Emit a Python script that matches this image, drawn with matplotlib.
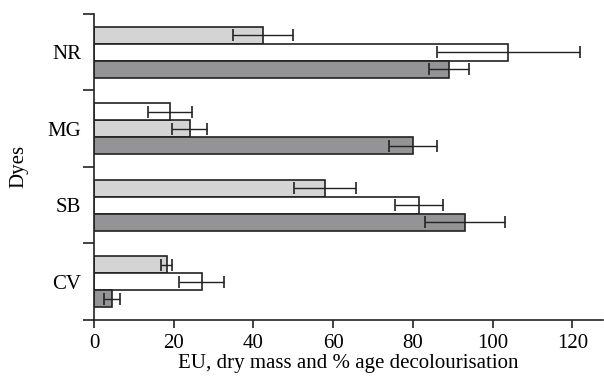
import matplotlib
matplotlib.use("Agg")
import matplotlib.pyplot as plt
import numpy as np

plt.rcParams['font.family'] = ['Liberation Serif', 'DejaVu Serif']

dyes = ['CV', 'SB', 'MG', 'NR']
light_vals = [18.2, 58.0, 24.0, 42.5]
light_err = [1.5, 7.7, 4.3, 7.5]
white_vals = [27.0, 81.5, 19.0, 104.0]
white_err = [5.7, 6.0, 5.5, 18.0]
dark_vals = [4.5, 93.0, 80.0, 89.0]
dark_err = [2.0, 10.0, 6.0, 5.0]
# slot of each series in each group (0 = top, 2 = bottom)
light_slot = [0, 0, 1, 0]
white_slot = [1, 1, 0, 1]
dark_slot = [2, 2, 2, 2]
xticks = [0, 20, 40, 60, 80, 100, 120]

fig = plt.figure(figsize=(6.04, 3.85), dpi=100)
ax = fig.add_axes([0.1556, 0.169, 0.842, 0.795])

bh = 0.222
edge = '#222222'
for vals, errs, slots, col in [(light_vals, light_err, light_slot, '#d4d4d4'),
                               (white_vals, white_err, white_slot, '#ffffff'),
                               (dark_vals, dark_err, dark_slot, '#949496')]:
    y = np.arange(len(dyes)) + 0.5 + (1 - np.array(slots)) * bh
    ax.barh(y, vals, height=bh, color=col, edgecolor=edge, linewidth=1.2, zorder=2)
    ax.errorbar(vals, y, xerr=errs, fmt='none', ecolor=edge, elinewidth=1.0,
                capsize=4, capthick=1.2, zorder=3)

fs = 15
ax.set_ylim(0, len(dyes))
ax.set_xlim(0, 127.6)
ax.set_yticks(np.arange(len(dyes) + 1))
ax.set_yticklabels([])
ax.set_yticks(np.arange(len(dyes)) + 0.5, minor=True)
ax.set_yticklabels(dyes, minor=True)
ax.tick_params(axis='y', which='minor', length=0, labelsize=fs, pad=9)
ax.tick_params(axis='y', which='major', length=8, width=1.2, color=edge)
ax.set_xticks(xticks)
ax.tick_params(axis='x', length=6, width=1.2, color=edge, labelsize=fs, pad=4)
for s in ['top', 'right']:
    ax.spines[s].set_visible(False)
for s in ['left', 'bottom']:
    ax.spines[s].set_linewidth(1.2)
    ax.spines[s].set_color(edge)
ax.set_xlabel('EU, dry mass and % age decolourisation', fontsize=fs, labelpad=1)
ax.set_ylabel('Dyes', fontsize=fs, labelpad=14)

fig.savefig('out.png', dpi=100)
